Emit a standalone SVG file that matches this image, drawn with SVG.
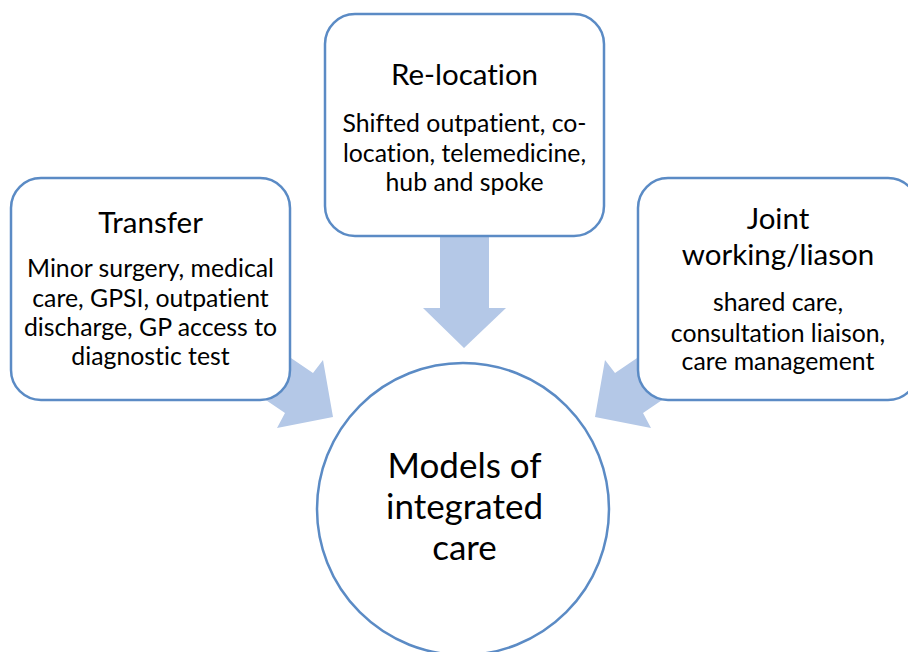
<svg xmlns="http://www.w3.org/2000/svg" width="908" height="652" viewBox="0 0 908 652">
<style>
.box{fill:#ffffff;stroke:#5B8BC5;stroke-width:2.5}
.arrow{fill:#B4C8E7;stroke:none}
text{font-family:Lato,"Liberation Sans",sans-serif;fill:#000;text-anchor:middle;font-variant-ligatures:none}
.title{font-size:29.5px}
.body{font-size:24.8px}
.big{font-size:35px}
</style>
<rect width="908" height="652" fill="#ffffff"/>
<g id="connectors">
<polygon class="arrow" points="440,230 489,230 489,308 506,308 464,348 423,308 440,308"/>
<polygon class="arrow" points="263,339 313,373 323,360 333,417 277,428 285,413 235,379"/>
<polygon class="arrow" points="665,339 615,373 605,360 595,417 651,428 643,413 693,379"/>
</g>
<g id="relocation">
<rect class="box" x="325" y="14" width="279" height="222" rx="30"/>
<text class="title" x="464.5" y="85">Re-location</text>
<text class="body" x="464.5" y="132">Shifted outpatient, co-</text>
<text class="body" x="464.5" y="162">location, telemedicine,</text>
<text class="body" x="464.5" y="191">hub and spoke</text>
</g>
<g id="transfer">
<rect class="box" x="11" y="178" width="279" height="222" rx="30"/>
<text class="title" x="150.5" y="233">Transfer</text>
<text class="body" x="150.5" y="277">Minor surgery, medical</text>
<text class="body" x="150.5" y="307">care, GPSI, outpatient</text>
<text class="body" x="150.5" y="336">discharge, GP access to</text>
<text class="body" x="150.5" y="365">diagnostic test</text>
</g>
<g id="joint">
<rect class="box" x="638" y="178" width="280" height="222" rx="30"/>
<text class="title" x="778" y="229">Joint</text>
<text class="title" x="778" y="265">working/liason</text>
<text class="body" x="778" y="311">shared care,</text>
<text class="body" x="778" y="342">consultation liaison,</text>
<text class="body" x="778" y="370">care management</text>
</g>
<g id="models">
<circle class="box" cx="463" cy="509" r="146"/>
<text class="big" x="464.5" y="478">Models of</text>
<text class="big" x="464.5" y="519">integrated</text>
<text class="big" x="464.5" y="560">care</text>
</g>
</svg>
